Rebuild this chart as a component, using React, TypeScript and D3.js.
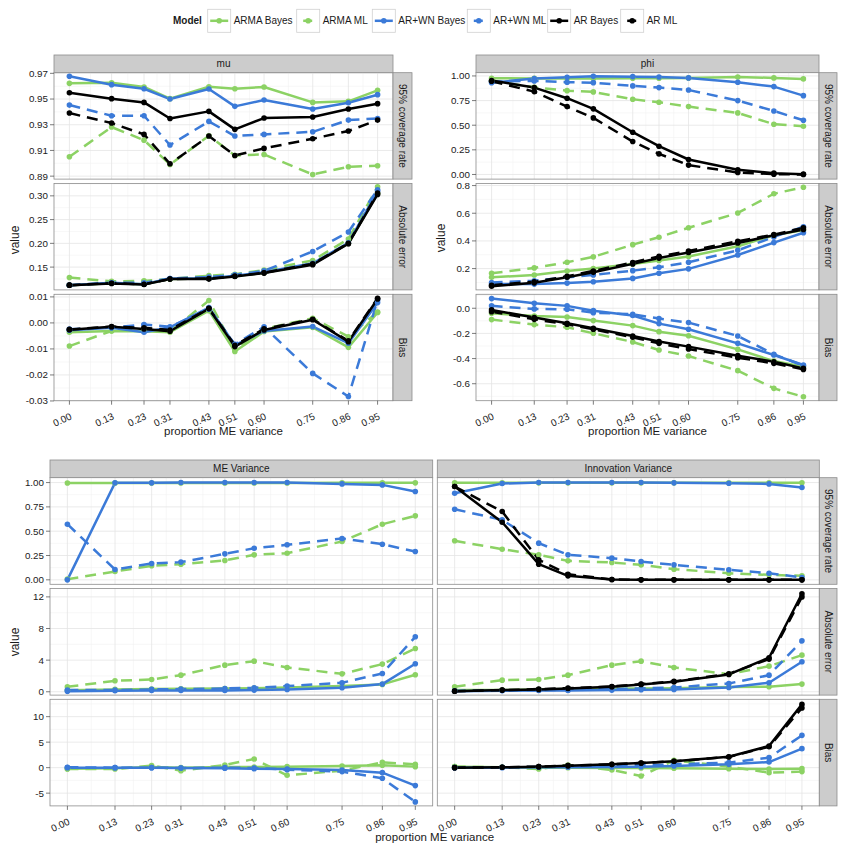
import React from "react";
import * as d3 from "d3";

const X_VALUES = [0, 0.13, 0.23, 0.31, 0.43, 0.51, 0.6, 0.75, 0.86, 0.95];
const X_LABELS = ["0.00", "0.13", "0.23", "0.31", "0.43", "0.51", "0.60", "0.75", "0.86", "0.95"];
const MODELS = ["ARMA Bayes", "ARMA ML", "AR+WN Bayes", "AR+WN ML", "AR Bayes", "AR ML"];
const GREEN = "#8cd264";
const BLUE = "#3b7ad8";
const BLACK = "#000000";
const COLORS = [GREEN, GREEN, BLUE, BLUE, BLACK, BLACK];
const DASHED = [false, true, false, true, false, true];
const METRICS = ["95% coverage rate", "Absolute error", "Bias"];

// series order: ARMA Bayes, ARMA ML, AR+WN Bayes, AR+WN ML, AR Bayes, AR ML
const muCoverage = [
  [0.9622, 0.9627, 0.9594, 0.9503, 0.9596, 0.958, 0.9594, 0.9474, 0.9482, 0.9568],
  [0.9051, 0.9282, 0.918, 0.8991, 0.9214, 0.9061, 0.9069, 0.8913, 0.8973, 0.8981],
  [0.9677, 0.9612, 0.958, 0.95, 0.9578, 0.9443, 0.9492, 0.9422, 0.9471, 0.9534],
  [0.9453, 0.937, 0.937, 0.9142, 0.9326, 0.9212, 0.9225, 0.9245, 0.9336, 0.9349],
  [0.9549, 0.9503, 0.9474, 0.9349, 0.9404, 0.9264, 0.9352, 0.936, 0.9422, 0.9464],
  [0.9391, 0.9313, 0.9225, 0.8996, 0.9212, 0.9061, 0.9116, 0.9191, 0.9251, 0.9336],
];
const muAbsError = [
  [0.112, 0.116, 0.114, 0.125, 0.126, 0.131, 0.138, 0.157, 0.2, 0.305],
  [0.128, 0.12, 0.121, 0.125, 0.132, 0.135, 0.1437, 0.164, 0.209, 0.319],
  [0.112, 0.117, 0.114, 0.126, 0.126, 0.132, 0.139, 0.158, 0.201, 0.31],
  [0.112, 0.117, 0.117, 0.126, 0.129, 0.134, 0.142, 0.183, 0.224, 0.313],
  [0.112, 0.1155, 0.1134, 0.1247, 0.1247, 0.1303, 0.1374, 0.155, 0.1993, 0.303],
  [0.112, 0.116, 0.114, 0.125, 0.126, 0.131, 0.138, 0.157, 0.2, 0.306],
];
const muBias = [
  [-0.0036, -0.0031, -0.0032, -0.0036, 0.0047, -0.011, -0.0033, -0.0017, -0.0094, 0.004],
  [-0.0089, -0.0031, -0.0024, -0.0033, 0.0086, -0.0101, -0.0023, 0.0018, -0.0053, 0.0042],
  [-0.0028, -0.0019, -0.0036, -0.0017, 0.0059, -0.0085, -0.0031, -0.0014, -0.0078, 0.0078],
  [-0.0024, -0.0018, -0.0006, -0.0015, 0.0053, -0.0082, -0.0015, -0.0194, -0.0283, 0.0088],
  [-0.0026, -0.0015, -0.0023, -0.0032, 0.0055, -0.0091, -0.0027, 0.0012, -0.0072, 0.0092],
  [-0.0025, -0.0014, -0.0019, -0.0027, 0.0056, -0.0086, -0.0023, 0.0014, -0.0069, 0.0095],
];
const phiCoverage = [
  [0.976, 0.975, 0.975, 0.975, 0.976, 0.977, 0.98, 0.99, 0.98, 0.97],
  [0.95, 0.885, 0.851, 0.838, 0.764, 0.733, 0.689, 0.625, 0.51, 0.49],
  [0.932, 0.973, 0.986, 0.997, 0.993, 0.99, 0.98, 0.936, 0.892, 0.8],
  [0.943, 0.95, 0.936, 0.932, 0.899, 0.882, 0.858, 0.75, 0.645, 0.55],
  [0.953, 0.882, 0.774, 0.666, 0.429, 0.287, 0.152, 0.047, 0.0135, 0.003],
  [0.946, 0.841, 0.689, 0.574, 0.334, 0.209, 0.095, 0.02, 0.003, 0.0],
];
const phiAbsError = [
  [0.137, 0.154, 0.183, 0.2, 0.234, 0.259, 0.288, 0.361, 0.441, 0.478],
  [0.166, 0.205, 0.246, 0.285, 0.373, 0.427, 0.495, 0.602, 0.741, 0.788],
  [0.088, 0.088, 0.095, 0.105, 0.129, 0.166, 0.198, 0.298, 0.388, 0.459],
  [0.1, 0.112, 0.137, 0.154, 0.185, 0.21, 0.246, 0.332, 0.429, 0.502],
  [0.073, 0.097, 0.137, 0.173, 0.234, 0.276, 0.317, 0.385, 0.441, 0.483],
  [0.08, 0.105, 0.144, 0.183, 0.244, 0.288, 0.327, 0.398, 0.446, 0.495],
];
const phiBias = [
  [-0.04, -0.061, -0.069, -0.098, -0.138, -0.186, -0.218, -0.327, -0.42, -0.465],
  [-0.09, -0.13, -0.151, -0.199, -0.268, -0.332, -0.38, -0.496, -0.637, -0.704],
  [0.077, 0.04, 0.019, -0.019, -0.058, -0.122, -0.167, -0.279, -0.372, -0.451],
  [0.019, -0.005, -0.008, -0.035, -0.048, -0.082, -0.114, -0.22, -0.366, -0.457],
  [-0.013, -0.074, -0.119, -0.159, -0.22, -0.265, -0.305, -0.377, -0.425, -0.478],
  [-0.027, -0.088, -0.127, -0.167, -0.231, -0.279, -0.324, -0.393, -0.438, -0.486],
];
const meCoverage = [
  [0.995, 0.995, 0.995, 0.996, 0.996, 0.996, 0.996, 0.997, 0.997, 0.997],
  [0.007, 0.086, 0.144, 0.161, 0.199, 0.257, 0.274, 0.394, 0.572, 0.658],
  [0.0, 0.997, 0.997, 1.0, 1.0, 1.0, 1.0, 0.986, 0.976, 0.908],
  [0.572, 0.106, 0.168, 0.182, 0.267, 0.325, 0.36, 0.425, 0.366, 0.291],
  null,
  null,
];
const meAbsError = [
  [0.2, 0.3, 0.34, 0.38, 0.42, 0.46, 0.55, 0.72, 0.93, 2.15],
  [0.63, 1.39, 1.56, 2.1, 3.37, 3.87, 3.07, 2.27, 3.5, 5.47],
  [0.08, 0.13, 0.17, 0.17, 0.17, 0.21, 0.29, 0.51, 0.97, 3.54],
  [0.21, 0.21, 0.3, 0.34, 0.42, 0.5, 0.72, 1.14, 2.32, 6.95],
  null,
  null,
];
const meBias = [
  [-0.2, -0.13, 0.13, 0, 0.13, 0.13, 0.2, 0.33, 0.46, 0.2],
  [-0.26, -0.26, 0.39, -0.59, 0.52, 1.7, -1.5, -0.59, 1.04, 0.65],
  [0, 0, 0, -0.07, -0.13, -0.2, -0.26, -0.46, -0.98, -3.52],
  [0.07, 0, 0, -0.07, 0, -0.07, -0.39, -0.78, -2.09, -6.72],
  null,
  null,
];
const innovCoverage = [
  [0.997, 0.997, 0.997, 0.997, 0.997, 0.997, 0.997, 0.997, 0.997, 0.997],
  [0.401, 0.315, 0.257, 0.195, 0.178, 0.154, 0.11, 0.068, 0.051, 0.041],
  [0.89, 0.99, 1.0, 1.0, 1.0, 1.0, 0.997, 0.993, 0.986, 0.949],
  [0.726, 0.616, 0.377, 0.257, 0.223, 0.188, 0.154, 0.103, 0.068, 0.024],
  [0.959, 0.592, 0.161, 0.041, 0.003, 0, 0, 0, 0, 0],
  [0.959, 0.702, 0.205, 0.058, 0.003, 0, 0, 0, 0, 0],
];
const innovAbsError = [
  [0.21, 0.21, 0.29, 0.34, 0.38, 0.42, 0.46, 0.59, 0.63, 0.97],
  [0.63, 1.47, 1.56, 2.1, 3.37, 3.87, 3.07, 2.23, 3.24, 4.63],
  [0.08, 0.13, 0.17, 0.17, 0.21, 0.25, 0.29, 0.55, 1.14, 3.79],
  [0.13, 0.17, 0.21, 0.25, 0.34, 0.42, 0.55, 1.05, 2.1, 6.44],
  [0.08, 0.21, 0.29, 0.42, 0.63, 0.93, 1.26, 2.19, 4.3, 12.4],
  [0.08, 0.21, 0.34, 0.46, 0.67, 0.97, 1.31, 2.27, 4.13, 12.0],
];
const innovBias = [
  [0.2, 0.07, 0, 0, -0.07, -0.07, -0.13, -0.2, -0.26, -0.2],
  [0.2, 0.07, -0.26, 0.52, -0.46, -1.63, 1.43, 0.2, -0.98, -0.78],
  [0, 0, 0.07, 0.07, 0.13, 0.2, 0.33, 0.65, 1.1, 3.72],
  [0, 0.07, 0.13, 0.2, 0.33, 0.46, 0.65, 0.98, 1.96, 6.33],
  [0, 0.07, 0.2, 0.39, 0.65, 0.91, 1.24, 2.15, 4.24, 12.4],
  [0, 0.07, 0.2, 0.39, 0.65, 0.91, 1.24, 2.1, 4.1, 11.7],
];

// y ticks
const muCovTicks = [0.89, 0.91, 0.93, 0.95, 0.97];
const muCovLabels = ["0.89", "0.91", "0.93", "0.95", "0.97"];
const muAbsTicks = [0.15, 0.2, 0.25, 0.3];
const muAbsLabels = ["0.15", "0.20", "0.25", "0.30"];
const muBiasTicks = [-0.03, -0.02, -0.01, 0, 0.01];
const muBiasLabels = ["-0.03", "-0.02", "-0.01", "0.00", "0.01"];
const covTicks = [0, 0.25, 0.5, 0.75, 1];
const covLabels = ["0.00", "0.25", "0.50", "0.75", "1.00"];
const phiAbsTicks = [0.2, 0.4, 0.6, 0.8];
const phiAbsLabels = ["0.2", "0.4", "0.6", "0.8"];
const phiBiasTicks = [-0.6, -0.4, -0.2, 0];
const phiBiasLabels = ["-0.6", "-0.4", "-0.2", "0.0"];
const varAbsTicks = [0, 4, 8, 12];
const varAbsLabels = ["0", "4", "8", "12"];
const varBiasTicks = [-5, 0, 5, 10];
const varBiasLabels = ["-5", "0", "5", "10"];

const FONT = "'Liberation Sans', Arial, Helvetica, sans-serif";
const TXT = "#1a1a1a";

type PanelProps = {
  x0: number; x1: number; y0: number; y1: number;
  domain: [number, number];
  ticks: number[]; labels: string[];
  series: (number[] | null)[];
  yAxis: boolean; xAxis: boolean;
};

function minorOf(ticks: number[], domain: [number, number]) {
  const step = ticks.length > 1 ? ticks[1] - ticks[0] : 1;
  const out: number[] = [];
  for (let i = -1; i < ticks.length; i++) {
    const v = (i < 0 ? ticks[0] - step : ticks[i]) + step / 2;
    if (v > domain[0] && v < domain[1]) out.push(v);
  }
  return out;
}

function Panel(p: PanelProps) {
  const x = d3.scaleLinear().domain([-0.0475, 0.9975]).range([p.x0, p.x1]);
  const y = d3.scaleLinear().domain(p.domain).range([p.y1, p.y0]);
  const line = d3.line<number>().x((_, i) => x(X_VALUES[i])).y((d) => y(d));
  const xMinor = X_VALUES.slice(0, -1).map((v, i) => (v + X_VALUES[i + 1]) / 2);
  const yMinor = minorOf(p.ticks, p.domain);
  return (
    <g>
      <rect x={p.x0} y={p.y0} width={p.x1 - p.x0} height={p.y1 - p.y0} fill="#fff" />
      {yMinor.map((v, i) => (
        <line key={"ym" + i} x1={p.x0} x2={p.x1} y1={y(v)} y2={y(v)} stroke="#f2f2f2" strokeWidth={0.6} />
      ))}
      {xMinor.map((v, i) => (
        <line key={"xm" + i} x1={x(v)} x2={x(v)} y1={p.y0} y2={p.y1} stroke="#f2f2f2" strokeWidth={0.6} />
      ))}
      {p.ticks.map((v, i) => (
        <line key={"yg" + i} x1={p.x0} x2={p.x1} y1={y(v)} y2={y(v)} stroke="#e4e4e4" strokeWidth={0.8} />
      ))}
      {X_VALUES.map((v, i) => (
        <line key={"xg" + i} x1={x(v)} x2={x(v)} y1={p.y0} y2={p.y1} stroke="#e4e4e4" strokeWidth={0.8} />
      ))}
      {p.series.map((s, k) =>
        s ? (
          <path key={"l" + k} d={line(s) || ""} fill="none" stroke={COLORS[k]} strokeWidth={2.5}
            strokeDasharray={DASHED[k] ? "11,7" : undefined} strokeLinejoin="round" />
        ) : null
      )}
      {p.series.map((s, k) =>
        s ? (
          <g key={"p" + k}>
            {s.map((v, i) => (
              <circle key={i} cx={x(X_VALUES[i])} cy={y(v)} r={2.8} fill={COLORS[k]} />
            ))}
          </g>
        ) : null
      )}
      <rect x={p.x0} y={p.y0} width={p.x1 - p.x0} height={p.y1 - p.y0} fill="none" stroke="#8c8c8c" strokeWidth={0.8} />
      {p.yAxis &&
        p.ticks.map((v, i) => (
          <g key={"yt" + i}>
            <line x1={p.x0 - 4} x2={p.x0} y1={y(v)} y2={y(v)} stroke="#444" strokeWidth={0.7} />
            <text x={p.x0 - 6} y={y(v)} dy="0.35em" textAnchor="end" fontSize={9.8} fill={TXT} fontFamily={FONT}>
              {p.labels[i]}
            </text>
          </g>
        ))}
      {p.xAxis &&
        X_VALUES.map((v, i) => (
          <g key={"xt" + i}>
            <line x1={x(v)} x2={x(v)} y1={p.y1} y2={p.y1 + 4} stroke="#444" strokeWidth={0.7} />
            <text transform={`translate(${x(v) + 3},${p.y1 + 18}) rotate(-25)`} textAnchor="end" fontSize={9.8}
              fill={TXT} fontFamily={FONT}>
              {X_LABELS[i]}
            </text>
          </g>
        ))}
    </g>
  );
}

function TopStrip({ x0, x1, y0, y1, label }: { x0: number; x1: number; y0: number; y1: number; label: string }) {
  return (
    <g>
      <rect x={x0} y={y0} width={x1 - x0} height={y1 - y0} fill="#cccccc" stroke="#8c8c8c" strokeWidth={0.8} />
      <text x={(x0 + x1) / 2} y={(y0 + y1) / 2} dy="0.35em" textAnchor="middle" fontSize={10} fill={TXT} fontFamily={FONT}>
        {label}
      </text>
    </g>
  );
}

function RightStrip({ x0, x1, y0, y1, label }: { x0: number; x1: number; y0: number; y1: number; label: string }) {
  const cx = (x0 + x1) / 2;
  const cy = (y0 + y1) / 2;
  return (
    <g>
      <rect x={x0} y={y0} width={x1 - x0} height={y1 - y0} fill="#cccccc" stroke="#8c8c8c" strokeWidth={0.8} />
      <text transform={`translate(${cx},${cy}) rotate(90)`} dy="0.35em" textAnchor="middle" fontSize={10} fill={TXT}
        fontFamily={FONT}>
        {label}
      </text>
    </g>
  );
}

const TOP_ROWS = [72.7, 183.5, 294.3];
const TOP_H = 106.4;
const BOT_ROWS = [477.7, 588.5, 699.3];
const BOT_H = 106.6;

type Block = {
  x0: number; x1: number; rows: number[]; h: number;
  domains: [number, number][]; ticks: number[][]; labels: string[][];
  data: (number[] | null)[][]; yAxis: boolean; strip: string; stripTop: number;
  right: boolean; rx: [number, number];
};

function BlockView(b: Block) {
  return (
    <g>
      <TopStrip x0={b.x0} x1={b.x1} y0={b.stripTop} y1={b.rows[0]} label={b.strip} />
      {b.rows.map((r, i) => (
        <Panel key={i} x0={b.x0} x1={b.x1} y0={r} y1={r + b.h} domain={b.domains[i]} ticks={b.ticks[i]}
          labels={b.labels[i]} series={b.data[i]} yAxis={b.yAxis} xAxis={i === 2} />
      ))}
      {b.right &&
        b.rows.map((r, i) => (
          <RightStrip key={"rs" + i} x0={b.rx[0]} x1={b.rx[1]} y0={r} y1={r + b.h} label={METRICS[i]} />
        ))}
    </g>
  );
}

function Legend() {
  const keyX = [207.7, 296.7, 372.3, 467.3, 547.7, 620.7];
  const ky = 9.3;
  const ks = 23;
  return (
    <g fontFamily={FONT}>
      <text x={173} y={20.8} dy="0.35em" fontSize={10} fontWeight="bold" fill={TXT}>Model</text>
      {MODELS.map((m, i) => {
        const kx = keyX[i];
        const cx = kx + ks / 2;
        const cy = ky + ks / 2;
        return (
          <g key={m}>
            <rect x={kx} y={ky} width={ks} height={ks} fill="#fff" stroke="#d0d0d0" strokeWidth={0.8} />
            {DASHED[i] ? (
              <line x1={cx - 5} x2={cx + 4} y1={cy} y2={cy} stroke={COLORS[i]} strokeWidth={2.5} />
            ) : (
              <line x1={kx + 2.5} x2={kx + ks - 2.5} y1={cy} y2={cy} stroke={COLORS[i]} strokeWidth={2.5} />
            )}
            <circle cx={cx} cy={cy} r={2.8} fill={COLORS[i]} />
            <text x={kx + ks + 3} y={cy} dy="0.35em" fontSize={10} fill={TXT}>{m}</text>
          </g>
        );
      })}
    </g>
  );
}

export default function App() {
  const blocks: Block[] = [
    {
      x0: 54, x1: 393, rows: TOP_ROWS, h: TOP_H,
      domains: [[0.8877, 0.9705], [0.102, 0.326], [-0.0299, 0.011]],
      ticks: [muCovTicks, muAbsTicks, muBiasTicks], labels: [muCovLabels, muAbsLabels, muBiasLabels],
      data: [muCoverage, muAbsError, muBias], yAxis: true, strip: "mu", stripTop: 55, right: true, rx: [393, 412],
    },
    {
      x0: 476, x1: 819, rows: TOP_ROWS, h: TOP_H,
      domains: [[-0.047, 1.033], [0.046, 0.815], [-0.735, 0.111]],
      ticks: [covTicks, phiAbsTicks, phiBiasTicks], labels: [covLabels, phiAbsLabels, phiBiasLabels],
      data: [phiCoverage, phiAbsError, phiBias], yAxis: true, strip: "phi", stripTop: 55, right: true, rx: [819, 837],
    },
    {
      x0: 50, x1: 432.7, rows: BOT_ROWS, h: BOT_H,
      domains: [[-0.046, 1.05], [-0.42, 13.06], [-7.5, 13.4]],
      ticks: [covTicks, varAbsTicks, varBiasTicks], labels: [covLabels, varAbsLabels, varBiasLabels],
      data: [meCoverage, meAbsError, meBias], yAxis: true, strip: "ME Variance", stripTop: 460, right: false, rx: [0, 0],
    },
    {
      x0: 437.3, x1: 819.3, rows: BOT_ROWS, h: BOT_H,
      domains: [[-0.046, 1.05], [-0.42, 13.06], [-7.5, 13.4]],
      ticks: [covTicks, varAbsTicks, varBiasTicks], labels: [covLabels, varAbsLabels, varBiasLabels],
      data: [innovCoverage, innovAbsError, innovBias], yAxis: false, strip: "Innovation Variance", stripTop: 460,
      right: true, rx: [819.3, 837],
    },
  ];
  return (
    <svg width={851} height={851} style={{ position: "absolute", left: 0, top: 0, background: "#fff" }}
      fontFamily={FONT}>
      <rect x={0} y={0} width={851} height={851} fill="#fff" />
      <Legend />
      {blocks.map((b, i) => (
        <BlockView key={i} {...b} />
      ))}
      <text x={223.5} y={435} textAnchor="middle" fontSize={11.5} fill={TXT}>proportion ME variance</text>
      <text x={647.5} y={435} textAnchor="middle" fontSize={11.5} fill={TXT}>proportion ME variance</text>
      <text x={434.6} y={841} textAnchor="middle" fontSize={11.5} fill={TXT}>proportion ME variance</text>
      <text transform="translate(15,240) rotate(-90)" textAnchor="middle" dy="0.35em" fontSize={12} fill={TXT}>value</text>
      <text transform="translate(441,238) rotate(-90)" textAnchor="middle" dy="0.35em" fontSize={12} fill={TXT}>value</text>
      <text transform="translate(15,642) rotate(-90)" textAnchor="middle" dy="0.35em" fontSize={12} fill={TXT}>value</text>
    </svg>
  );
}
